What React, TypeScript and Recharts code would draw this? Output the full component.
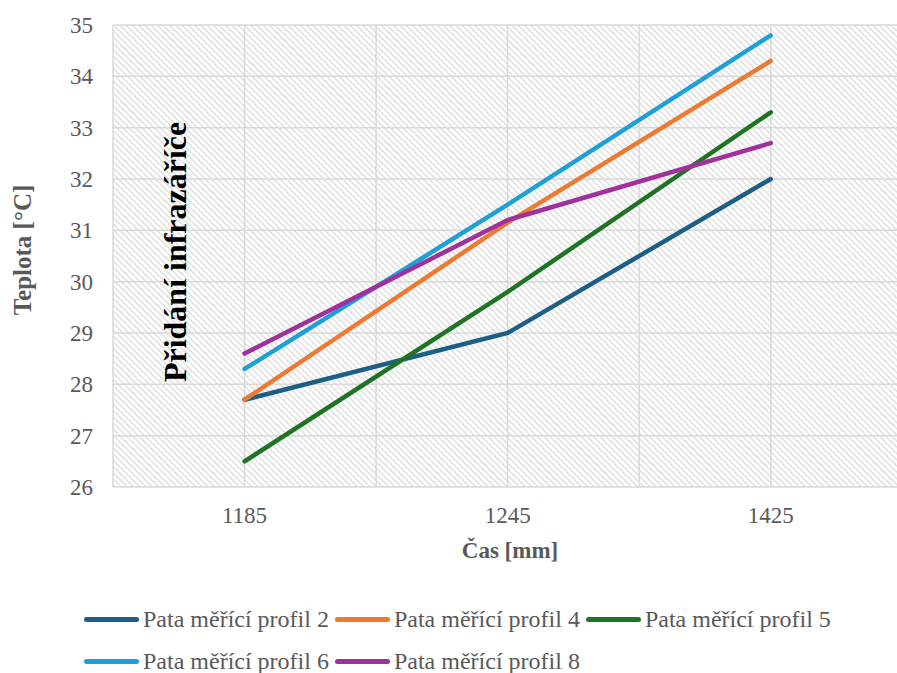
import React from 'react';
import { LineChart, Line, XAxis, YAxis, CartesianGrid, ReferenceLine, ReferenceDot, Label } from 'recharts';

const categories = ['1185', '1245', '1425'];
const profil2 = [27.7, 29.0, 32.0];
const profil4 = [27.7, 31.15, 34.3];
const profil5 = [26.5, 29.8, 33.3];
const profil6 = [28.3, 31.5, 34.8];
const profil8 = [28.6, 31.2, 32.7];
const yTicks = [26, 27, 28, 29, 30, 31, 32, 33, 34, 35];
const gridX = [-0.5, 0, 0.5, 1, 1.5, 2];

const series = [
  { key: 'p2', name: 'Pata měřící profil 2', values: profil2, color: '#1D5E86' },
  { key: 'p4', name: 'Pata měřící profil 4', values: profil4, color: '#EC7A33' },
  { key: 'p5', name: 'Pata měřící profil 5', values: profil5, color: '#1F7424' },
  { key: 'p6', name: 'Pata měřící profil 6', values: profil6, color: '#1DA0D8' },
  { key: 'p8', name: 'Pata měřící profil 8', values: profil8, color: '#A0309C' },
];

const data = categories.map((c, i) => {
  const row: Record<string, number | string> = { x: i, label: c };
  series.forEach(s => { row[s.key] = s.values[i]; });
  return row;
});

const FONT = '"Liberation Serif", "Times New Roman", serif';
const GRAY = '#595959';
const tickStyle = { fontFamily: FONT, fontSize: 23, fill: GRAY };

export default function App() {
  return (
    <div style={{ position: 'absolute', left: 0, top: 0, width: 897, height: 673, overflow: 'hidden', background: '#fff' }}>
      <LineChart width={897} height={673} data={data} margin={{ top: 25, right: 0, bottom: 156, left: 0 }}>
        <defs>
          <pattern id="hatch" patternUnits="userSpaceOnUse" width="4.4" height="4.4" patternTransform="rotate(-45)">
            <line x1="1" y1="0" x2="1" y2="4.4" stroke="#dadada" strokeWidth="1.3" />
          </pattern>
        </defs>
        <CartesianGrid vertical={false} stroke="#d9d9d9" strokeWidth={1.5} fill="url(#hatch)" />
        {gridX.map(v => (
          <ReferenceLine key={v} x={v} stroke="#d9d9d9" strokeWidth={1.5} />
        ))}
        <XAxis
          type="number"
          dataKey="x"
          domain={[-0.5, 2.48]}
          ticks={[0, 1, 2]}
          allowDataOverflow
          tickFormatter={(v: number) => categories[v]}
          tick={tickStyle}
          tickLine={false}
          axisLine={false}
          tickMargin={14}
          height={30}
        >
          <Label
            content={(props: any) => {
              const vb = props.viewBox;
              return (
                <text x={vb.x + vb.width / 2 + 5} y={558} textAnchor="middle"
                  style={{ fontFamily: FONT, fontSize: 23, fontWeight: 'bold', fill: GRAY }}>Čas [mm]</text>
              );
            }}
          />
        </XAxis>
        <YAxis
          type="number"
          domain={[26, 35]}
          ticks={yTicks}
          tick={tickStyle}
          tickLine={false}
          axisLine={false}
          tickMargin={14}
          width={113}
        >
          <Label
            content={(props: any) => {
              const vb = props.viewBox;
              const cy = vb.y + vb.height / 2 - 6;
              return (
                <text x={22} y={cy} textAnchor="middle" dominantBaseline="central" transform={`rotate(-90 22 ${cy})`}
                  style={{ fontFamily: FONT, fontSize: 25, fontWeight: 'bold', fill: GRAY }}>Teplota [°C]</text>
              );
            }}
          />
        </YAxis>
        {series.map(s => (
          <Line
            key={s.key}
            type="linear"
            dataKey={s.key}
            name={s.name}
            stroke={s.color}
            strokeWidth={4.5}
            strokeLinecap="round"
            dot={false}
            activeDot={false}
            isAnimationActive={false}
          />
        ))}
        <ReferenceDot
          x={-0.265}
          y={30.58}
          r={0}
          fill="none"
          stroke="none"
          label={(props: any) => {
            const vb = props.viewBox;
            const cx = vb.x + (vb.width || 0) / 2;
            const cy = vb.y + (vb.height || 0) / 2;
            return (
              <text x={cx} y={cy} textAnchor="middle" dominantBaseline="central" transform={`rotate(-90 ${cx} ${cy})`}
                style={{ fontFamily: FONT, fontSize: 32, fontWeight: 'bold', fill: '#000' }}>Přidání infrazáříče</text>
            );
          }}
        />
      </LineChart>
      <div style={{ position: 'absolute', left: 84, top: 598, width: 800, fontFamily: FONT, fontSize: 24, color: GRAY }}>
        {[series.slice(0, 3), series.slice(3)].map((row, ri) => (
          <div key={ri} style={{ display: 'flex', alignItems: 'center', height: 42 }}>
            {row.map(s => (
              <div key={s.key} style={{ display: 'flex', alignItems: 'center', marginRight: 6 }}>
                <span style={{ display: 'inline-block', width: 55, height: 5, borderRadius: 3, background: s.color, marginRight: 4 }} />
                <span style={{ whiteSpace: 'nowrap', lineHeight: '26px' }}>{s.name}</span>
              </div>
            ))}
          </div>
        ))}
      </div>
    </div>
  );
}
